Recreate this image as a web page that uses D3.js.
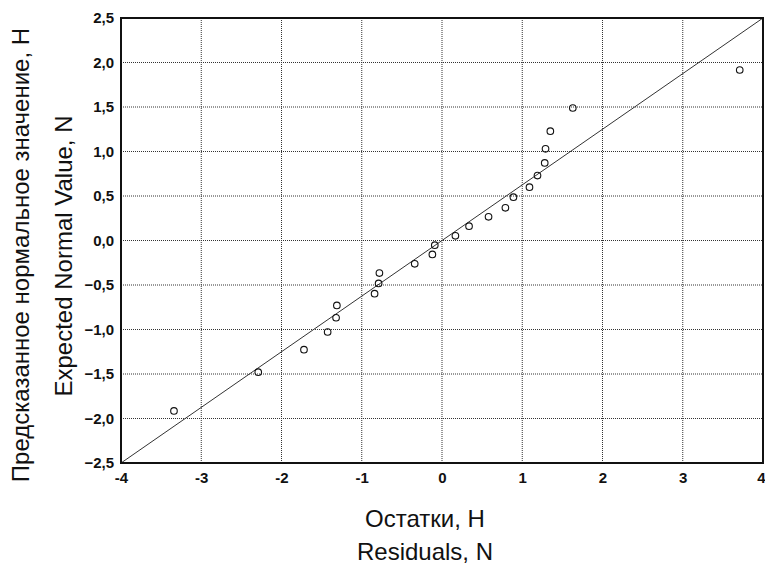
<!DOCTYPE html>
<html>
<head>
<meta charset="utf-8">
<script src="https://cdn.jsdelivr.net/npm/d3@7"></script>
<style>
  body { margin: 0; background: #fff; }
  svg { display: block; font-family: "Liberation Sans", Arial, sans-serif; }
</style>
</head>
<body>
<svg id="chart" width="765" height="569"></svg>
<script>
// residuals (x) and expected normal values (y)
var residuals = [-3.34, -2.29, -1.72, -1.425, -1.32, -1.31, -0.84, -0.79, -0.78, -0.34, -0.12, -0.09,
    0.167, 0.337, 0.58, 0.79, 0.89, 1.09, 1.19, 1.28, 1.29, 1.35, 1.63, 3.71];
var expected = [-1.915, -1.48, -1.227, -1.028, -0.868, -0.73, -0.598, -0.482, -0.366, -0.262, -0.157, -0.052,
    0.053, 0.161, 0.266, 0.367, 0.487, 0.599, 0.73, 0.872, 1.03, 1.228, 1.489, 1.916];
var refLineX = [-4, 4];
var refLineY = [-2.5, 2.5];
var xTicks = [-4, -3, -2, -1, 0, 1, 2, 3, 4];
var yTicks = [-2.5, -2, -1.5, -1, -0.5, 0, 0.5, 1, 1.5, 2, 2.5];

var drawChart = function () {
    let svg = d3.select("#chart"),
        left = 121, right = 763, top = 18, bottom = 463,
        xScale = d3.scaleLinear().domain([-4, 4]).range([left, right]),
        yScale = d3.scaleLinear().domain([-2.5, 2.5]).range([bottom, top]),
        fmtX = d => String(d),
        fmtY = d => d3.format(".1f")(d).replace(".", ",");

    // dotted grid
    svg.append("g").selectAll("line")
        .data(xTicks.slice(1, -1))
        .enter().append("line")
        .attr("x1", d => xScale(d)).attr("x2", d => xScale(d))
        .attr("y1", top).attr("y2", bottom)
        .attr("stroke", "#333").attr("stroke-width", 1).attr("stroke-dasharray", "1,1");
    svg.append("g").selectAll("line")
        .data(yTicks.slice(1, -1))
        .enter().append("line")
        .attr("x1", left).attr("x2", right)
        .attr("y1", d => yScale(d)).attr("y2", d => yScale(d))
        .attr("stroke", "#333").attr("stroke-width", 1).attr("stroke-dasharray", "1,1");

    // axes (labels only)
    let xAxis = d3.axisBottom(xScale).tickValues(xTicks).tickFormat(fmtX).tickSize(0).tickPadding(9);
    let gx = svg.append("g").attr("transform", "translate(0," + bottom + ")").call(xAxis);
    let yAxis = d3.axisLeft(yScale).tickValues(yTicks).tickFormat(fmtY).tickSize(0).tickPadding(7);
    let gy = svg.append("g").attr("transform", "translate(" + left + ",0)").call(yAxis);
    [gx, gy].forEach(g => {
        g.select(".domain").remove();
        g.selectAll("text").attr("font-family", "'Liberation Sans', Arial, sans-serif")
            .attr("font-size", 15).attr("font-weight", "bold").attr("fill", "#111");
    });
    // last x label sits at the window edge: keep it inside
    gx.selectAll(".tick text").filter(d => d === 4)
        .attr("text-anchor", "end").attr("x", 2);

    // reference line
    let line = d3.line().x(d => xScale(d[0])).y(d => yScale(d[1]));
    svg.append("path")
        .datum(d3.zip(refLineX, refLineY))
        .attr("d", line)
        .attr("fill", "none").attr("stroke", "#333").attr("stroke-width", 1);

    // points
    svg.append("g").selectAll("circle")
        .data(d3.zip(residuals, expected))
        .enter().append("circle")
        .attr("cx", d => xScale(d[0]))
        .attr("cy", d => yScale(d[1]))
        .attr("r", 3.3)
        .attr("fill", "none").attr("stroke", "#111").attr("stroke-width", 1.1);

    // frame
    svg.append("rect")
        .attr("x", left).attr("y", top)
        .attr("width", right - left).attr("height", bottom - top)
        .attr("fill", "none").attr("stroke", "#111").attr("stroke-width", 2);

    // titles
    svg.append("text").attr("x", 425).attr("y", 527).attr("text-anchor", "middle")
        .attr("font-size", 24).attr("fill", "#111").text("Остатки, Н");
    svg.append("text").attr("x", 425).attr("y", 560).attr("text-anchor", "middle")
        .attr("font-size", 24).attr("fill", "#111").text("Residuals, N");
    svg.append("text").attr("transform", "translate(29,255) rotate(-90)").attr("text-anchor", "middle")
        .attr("font-size", 24).attr("fill", "#111").text("Предсказанное нормальное значение, Н");
    svg.append("text").attr("transform", "translate(72,256) rotate(-90)").attr("text-anchor", "middle")
        .attr("font-size", 24).attr("fill", "#111").text("Expected Normal Value, N");
};

drawChart();
</script>
</body>
</html>
